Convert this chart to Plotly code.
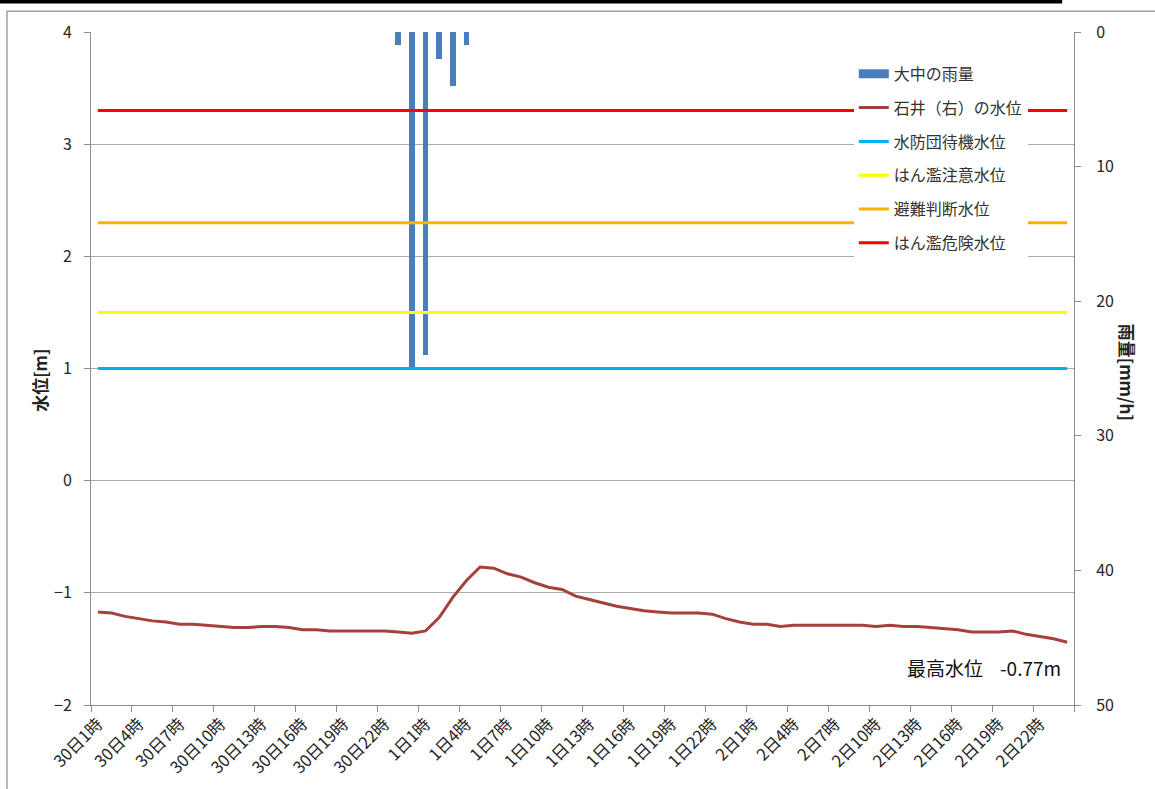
import plotly.graph_objects as go

# ---- data ----
days = ["30日", "1日", "2日"]
categories = [f"{d}{h}時" for d in days for h in range(1, 25)]

tick_labels = ["30日1時", "30日4時", "30日7時", "30日10時", "30日13時", "30日16時",
               "30日19時", "30日22時", "1日1時", "1日4時", "1日7時", "1日10時",
               "1日13時", "1日16時", "1日19時", "1日22時", "2日1時", "2日4時",
               "2日7時", "2日10時", "2日13時", "2日16時", "2日19時", "2日22時"]

# rainfall at 大中 [mm/h]
rain = [0, 0, 0, 0, 0, 0, 0, 0, 0, 0, 0, 0,
        0, 0, 0, 0, 0, 0, 0, 0, 0, 0, 1, 25,
        24, 2, 4, 1, 0, 0, 0, 0, 0, 0, 0, 0,
        0, 0, 0, 0, 0, 0, 0, 0, 0, 0, 0, 0,
        0, 0, 0, 0, 0, 0, 0, 0, 0, 0, 0, 0,
        0, 0, 0, 0, 0, 0, 0, 0, 0, 0, 0, 0]

# water level at 石井(右) [m]
level = [-1.17, -1.18, -1.21, -1.23, -1.25, -1.26, -1.28, -1.28, -1.29, -1.30, -1.31, -1.31,
         -1.30, -1.30, -1.31, -1.33, -1.33, -1.34, -1.34, -1.34, -1.34, -1.34, -1.35, -1.36,
         -1.34, -1.22, -1.04, -0.89, -0.77, -0.78, -0.83, -0.86, -0.91, -0.95, -0.97, -1.03,
         -1.06, -1.09, -1.12, -1.14, -1.16, -1.17, -1.18, -1.18, -1.18, -1.19, -1.23, -1.26,
         -1.28, -1.28, -1.30, -1.29, -1.29, -1.29, -1.29, -1.29, -1.29, -1.30, -1.29, -1.30,
         -1.30, -1.31, -1.32, -1.33, -1.35, -1.35, -1.35, -1.34, -1.37, -1.39, -1.41, -1.44]

threshold_names = ["水防団待機水位", "はん濫注意水位", "避難判断水位", "はん濫危険水位"]
threshold_values = [1.0, 1.5, 2.3, 3.3]
threshold_colors = ["#00B0F0", "#FFFF00", "#FFB000", "#FF0000"]

rain_ticks = [0, 10, 20, 30, 40, 50]
level_ticks = [-2, -1, 0, 1, 2, 3, 4]

# ---- figure ----
x = list(range(len(categories)))
tickvals = [categories.index(t) for t in tick_labels]

BAR_BLUE = "#4A7EBB"
LEVEL_RED = "#A5403C"
AXIS_GRAY = "#8C8C8C"

fig = go.Figure()

fig.add_trace(go.Bar(x=x, y=rain, yaxis="y", width=0.4, marker_color=BAR_BLUE,
                     marker_line_width=0, showlegend=False, name="大中の雨量"))

# legend entry for the rain bars (wide rectangle like the original)
fig.add_trace(go.Scatter(x=[None], y=[None], yaxis="y", mode="lines",
                         line=dict(color=BAR_BLUE, width=9), name="大中の雨量",
                         legendgroup="g0"))

fig.add_trace(go.Scatter(x=x, y=level, yaxis="y2", mode="lines",
                         line=dict(color=LEVEL_RED, width=3), name="石井（右）の水位",
                         legendgroup="g1"))

for i, (nm, v, c) in enumerate(zip(threshold_names, threshold_values, threshold_colors)):
    fig.add_trace(go.Scatter(x=x, y=[v] * len(x), yaxis="y2", mode="lines",
                             line=dict(color=c, width=3), name=nm,
                             legendgroup=f"g{i + 2}"))

fig.update_layout(
    width=1155, height=789,
    margin=dict(l=91, r=81, t=32, b=84),
    paper_bgcolor="white", plot_bgcolor="white",
    font=dict(family="Noto Sans CJK JP, Noto Sans, sans-serif", size=15, color="#262626"),
    legend=dict(x=0.776, y=0.963, xanchor="left", yanchor="top",
                bgcolor="white", font=dict(size=16, color="#333333"),
                traceorder="grouped", tracegroupgap=10, itemwidth=30),
    xaxis=dict(range=[-0.5, len(x) - 0.5], tickmode="array", tickvals=tickvals,
               ticktext=tick_labels, tickangle=-45, ticks="", ticklabelstandoff=2,
               automargin=False,
               showline=True, linecolor=AXIS_GRAY, linewidth=1,
               showgrid=False, zeroline=False, tickfont=dict(size=16.5),
               minor=dict(tickmode="linear", tick0=-0.5, dtick=3, ticks="outside",
                          ticklen=6, tickcolor=AXIS_GRAY, showgrid=False)),
    yaxis=dict(side="right", range=[50, 0], tickmode="array", tickvals=rain_ticks,
               ticks="outside", ticklen=6, tickcolor=AXIS_GRAY, ticklabelstandoff=12,
               automargin=False,
               showline=True, linecolor=AXIS_GRAY, linewidth=1,
               showgrid=False, zeroline=False, anchor="x", tickfont=dict(size=16)),
    yaxis2=dict(side="left", overlaying="y", range=[-2, 4], tickmode="array",
                tickvals=level_ticks, ticks="outside", ticklen=6, tickcolor=AXIS_GRAY,
                ticklabelstandoff=9, automargin=False,
                showline=True, linecolor=AXIS_GRAY, linewidth=1,
                showgrid=True, gridcolor="#ABABAB", gridwidth=1, zeroline=False,
                anchor="x", tickfont=dict(size=16)),
    bargap=0,
)

fig.add_annotation(text="<b>水位[m]</b>", xref="paper", yref="paper",
                   x=-0.052, y=0.483, xanchor="center", yanchor="middle",
                   textangle=-90, showarrow=False,
                   font=dict(size=17, color="#222222"))
fig.add_annotation(text="<b>雨量[mm/h]</b>", xref="paper", yref="paper",
                   x=1.054, y=0.495, xanchor="center", yanchor="middle",
                   textangle=90, showarrow=False,
                   font=dict(size=17, color="#222222"))
fig.add_annotation(text="最高水位&nbsp;&nbsp;&nbsp;&nbsp;-0.77m", xref="paper", yref="paper",
                   x=0.989, y=0.055, xanchor="right", yanchor="middle",
                   showarrow=False, font=dict(size=19, color="#111111"))

# outer chart frame and top black rule
fig.add_shape(type="rect", xref="paper", yref="paper",
              x0=-0.0855, x1=1.10, y0=-0.2, y1=1.031,
              line=dict(color="#A0A0A0", width=1.5), fillcolor="rgba(0,0,0,0)",
              layer="below")
fig.add_shape(type="rect", xref="paper", yref="paper",
              x0=-0.0926, x1=0.988, y0=1.0423, y1=1.0475,
              line=dict(width=0), fillcolor="black")

fig.write_html("out.html", config={"displayModeBar": False},
               post_script="document.body.style.margin='0px';")
